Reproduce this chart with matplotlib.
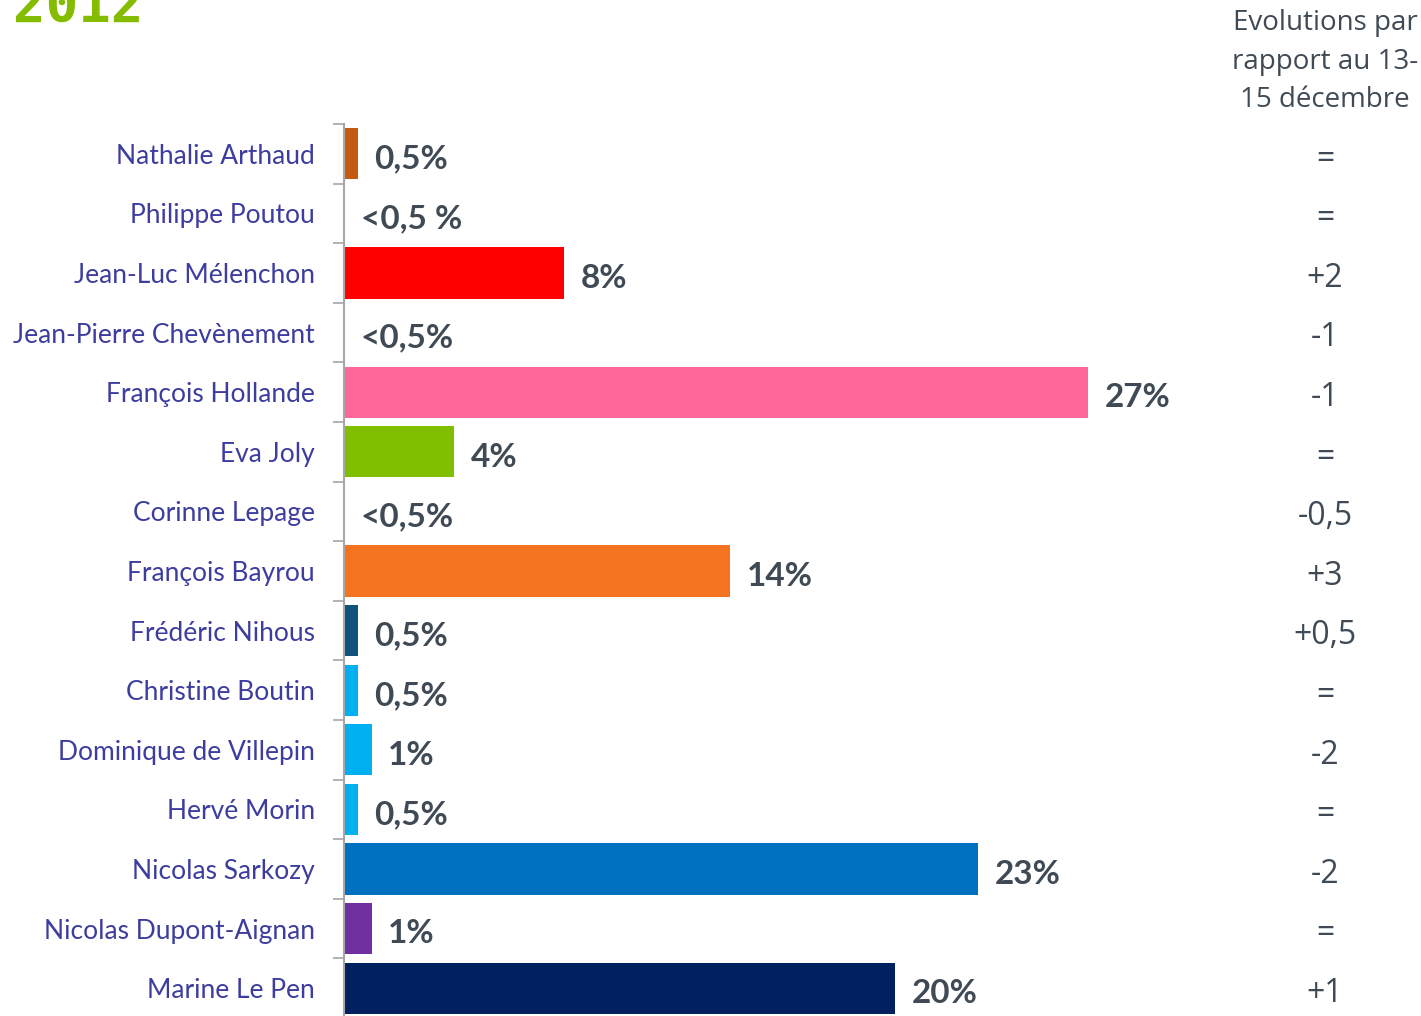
import matplotlib.pyplot as plt
import numpy as np

names = ["Nathalie Arthaud", "Philippe Poutou", "Jean-Luc Mélenchon",
         "Jean-Pierre Chevènement", "François Hollande", "Eva Joly",
         "Corinne Lepage", "François Bayrou", "Frédéric Nihous",
         "Christine Boutin", "Dominique de Villepin", "Hervé Morin",
         "Nicolas Sarkozy", "Nicolas Dupont-Aignan", "Marine Le Pen"]
values = [0.5, 0, 8, 0, 27, 4, 0, 14, 0.5, 0.5, 1, 0.5, 23, 1, 20]
value_labels = ["0,5%", "<0,5 %", "8%", "<0,5%", "27%", "4%", "<0,5%", "14%",
                "0,5%", "0,5%", "1%", "0,5%", "23%", "1%", "20%"]
evolutions = ["=", "=", "+2", "-1", "-1", "=", "-0,5", "+3", "+0,5", "=",
              "-2", "=", "-2", "=", "+1"]
colors = ["#C55A11", "#FFFFFF", "#FF0000", "#FFFFFF", "#FF6699", "#7FBF00",
          "#FFFFFF", "#F47321", "#12507E", "#00B0F0", "#00B0F0", "#00B0F0",
          "#0070C0", "#7030A0", "#002060"]

W, H = 1421, 1016
fig = plt.figure(figsize=(W / 100, H / 100), dpi=100)
ax = fig.add_axes([344 / W, (H - 1018) / H, (1200 - 344) / W, (1018 - 124) / H])

y = np.arange(len(names))
ax.barh(y, values, height=0.86, color=colors)
ax.set_xlim(0, (1200 - 344) / 27.55)
ax.set_ylim(len(names) - 0.5, -0.5)

for s in ["top", "right", "bottom"]:
    ax.spines[s].set_visible(False)
ax.spines["left"].set_color("#A6A6A6")
ax.spines["left"].set_linewidth(1.5)
ax.set_xticks([])
ax.set_yticks(y)
ax.set_yticklabels(names, fontsize=19, color="#3D3DA0", family="Lato")
ax.tick_params(axis="y", which="major", length=0, pad=21)
ax.set_yticks(np.arange(len(names) + 1) - 0.5, minor=True)
ax.tick_params(axis="y", which="minor", length=8, width=1.2, color="#A6A6A6")

# value labels next to the bars
for i, (v, lab) in enumerate(zip(values, value_labels)):
    ax.annotate(lab, (v, i), xytext=(12, -2), textcoords="offset points",
                va="center_baseline", ha="left", fontsize=24, fontweight="bold",
                color="#3F4A55", family="Lato")

# right column: evolutions
for i, ev in enumerate(evolutions):
    ax.annotate(ev, (0, i), xycoords=("figure fraction", "data"),
                xytext=(1325 / W, -1), textcoords=("figure fraction", "offset points"),
                ha="center", va="center_baseline", fontsize=23, color="#3F4A55",
                family="Open Sans")

fig.text(1325 / W, 1 - 9 / H, "Evolutions par\nrapport au 13-\n15 décembre",
         ha="center", va="top", fontsize=20, color="#3F4A55",
         family="Open Sans", linespacing=1.5)

fig.text(13 / W, 1 - 22 / H, "2012", ha="left", va="baseline", fontsize=39,
         fontweight="bold", color="#84BD00", family="DejaVu Sans Mono")

fig.savefig("out.png", dpi=100, facecolor="white")
